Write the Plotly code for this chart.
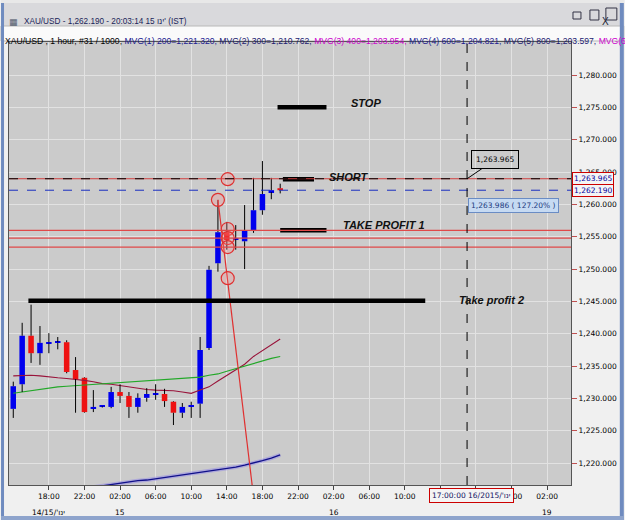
import plotly.graph_objects as go

# ---------------- data ----------------
hours = list(range(14, 45))  # hourly index (hours since 14th 00:00)
opens  = [1228.4, 1232.2, 1239.7, 1237.0, 1238.5, 1238.6, 1238.7, 1234.4, 1233.2, 1228.4,
          1228.7, 1228.7, 1231.0, 1230.4, 1228.7, 1230.1, 1230.6, 1230.7, 1229.5, 1227.8,
          1228.7, 1229.2, 1237.8, 1250.9, 1255.7, 1254.6, 1254.3, 1256.0, 1259.1, 1261.9, 1262.5]
highs  = [1232.6, 1241.7, 1244.5, 1241.2, 1240.1, 1239.5, 1239.0, 1236.4, 1233.3, 1231.3,
          1228.8, 1231.8, 1232.2, 1231.0, 1230.8, 1231.6, 1232.2, 1231.5, 1229.6, 1229.3,
          1229.5, 1239.5, 1250.5, 1260.7, 1257.3, 1256.8, 1259.9, 1264.1, 1266.7, 1264.1, 1263.2]
lows   = [1227.0, 1231.0, 1235.5, 1235.2, 1237.0, 1237.6, 1233.9, 1227.8, 1227.8, 1227.9,
          1228.6, 1228.5, 1229.3, 1227.0, 1227.8, 1229.5, 1229.8, 1228.7, 1225.9, 1227.0,
          1227.0, 1227.0, 1237.5, 1249.6, 1253.0, 1253.0, 1250.0, 1255.6, 1258.4, 1260.8, 1261.7]
closes = [1231.9, 1239.7, 1237.0, 1238.6, 1238.7, 1238.7, 1234.1, 1233.0, 1227.9, 1228.7,
          1228.7, 1231.0, 1230.4, 1228.7, 1230.1, 1230.7, 1230.8, 1229.6, 1227.8, 1228.7,
          1229.0, 1237.5, 1249.9, 1255.7, 1254.5, 1254.8, 1256.0, 1259.1, 1261.6, 1262.2, 1262.19]

ma_maroon = [1233.5, 1233.6, 1233.6, 1233.5, 1233.3, 1233.2, 1233.1, 1233.0, 1232.8, 1232.6,
             1232.3, 1232.2, 1232.0, 1231.7, 1231.5, 1231.4, 1231.3, 1231.3, 1231.2, 1231.0,
             1230.8, 1231.3, 1231.8, 1232.7, 1233.6, 1234.4, 1235.3, 1236.5, 1237.4, 1238.3, 1239.2]
ma_green = [1230.8, 1231.0, 1231.3, 1231.5, 1231.7, 1231.8, 1231.9, 1232.0, 1232.1, 1232.1,
            1232.2, 1232.3, 1232.4, 1232.5, 1232.6, 1232.7, 1232.8, 1232.9, 1233.0, 1233.1,
            1233.2, 1233.3, 1233.6, 1233.8, 1234.2, 1234.6, 1235.0, 1235.5, 1235.9, 1236.2, 1236.5]
ma200_hours = list(range(22, 45))
ma200 = [1216.1, 1216.3, 1216.5, 1216.8, 1217.0, 1217.1, 1217.3, 1217.4, 1217.6, 1217.8,
         1217.9, 1218.1, 1218.3, 1218.5, 1218.7, 1218.9, 1219.2, 1219.4, 1219.7, 1220.0,
         1220.4, 1220.8, 1221.3]

tick_hours = [18, 22, 26, 30, 34, 38, 42, 46, 50, 54, 58, 62, 66, 70, 74]
# labels at 62 and 66 are hidden behind the cursor time box in the reference
tick_labels = ["18:00", "22:00", "02:00", "06:00", "10:00", "14:00", "18:00", "22:00",
               "02:00", "06:00", "10:00", "", "", "22:00", "02:00"]
date_hours = [18, 26, 50, 74]
date_labels = ["14/ינו'/15", "15", "16", "19"]
y_ticks = [1220, 1225, 1230, 1235, 1240, 1245, 1250, 1255, 1260, 1265, 1270, 1275, 1280]

short_level = 1263.965
last_price = 1262.190
fib_levels = [1256.0, 1254.8, 1253.4]
fib_pts_h = [38.1, 37.0, 38.1, 38.1, 38.1, 38.1]
fib_pts_v = [1263.9, 1260.7, 1256.2, 1254.8, 1253.4, 1248.6]
fib_line_h = [37.0, 40.9]
fib_line_v = [1260.7, 1216.0]

seg_names = ["STOP", "SHORT", "TAKE PROFIT 1", "Take profit 2"]
seg_x0 = [43.7, 44.3, 44.0, 15.7]
seg_x1 = [49.2, 47.8, 49.2, 60.3]
seg_level = [1275.0, 1263.9, 1256.0, 1245.1]
seg_label_h = [53.6, 51.7, 55.7, 67.7]
seg_label_v = [1275.7, 1264.2, 1256.8, 1245.2]

cursor_hour = 65
cursor_time = "17:00:00 16/ינו'/2015"
cursor_value = "1,263.986 ( 127.20% )"
cursor_value_v = 1259.8

# ---------------- helpers (pixel -> paper) ----------------
L, R, T, B = 8, 572, 42, 485
def PX(x):
    return (x - L) / (R - L)
def PY(y):
    return 1 - (y - T) / (B - T)

FONT = "DejaVu Sans"
fig = go.Figure()

# MA 200 halo + line
fig.add_trace(go.Scatter(x=ma200_hours, y=ma200, mode="lines",
                         line=dict(color="rgba(150,140,230,0.55)", width=4), hoverinfo="skip"))
fig.add_trace(go.Scatter(x=ma200_hours, y=ma200, mode="lines",
                         line=dict(color="#10108a", width=1.3), hoverinfo="skip"))
fig.add_trace(go.Scatter(x=hours, y=ma_maroon, mode="lines",
                         line=dict(color="#99133a", width=1.1), hoverinfo="skip"))
fig.add_trace(go.Scatter(x=hours, y=ma_green, mode="lines",
                         line=dict(color="#22a828", width=1.1), hoverinfo="skip"))

# candle bodies
bases, heights, colors = [], [], []
for o, c in zip(opens, closes):
    bases.append(min(o, c))
    heights.append(max(abs(c - o), 0.18))
    colors.append("#0000ee" if c >= o else "#ee1111")
fig.add_trace(go.Bar(x=hours, y=heights, base=bases, width=0.62,
                     marker=dict(color=colors, line=dict(width=0)), hoverinfo="skip"))

# wicks (outside the bodies)
wx, wy = [], []
for h, o, hi, lo, c in zip(hours, opens, highs, lows, closes):
    top, bot = max(o, c), min(o, c)
    wx += [h, h, None, h, h, None]
    wy += [hi, top, None, bot, lo, None]
fig.add_trace(go.Scatter(x=wx, y=wy, mode="lines", line=dict(color="#000000", width=1),
                         hoverinfo="skip", connectgaps=False))

# horizontal levels
for lv in fib_levels:
    fig.add_hline(y=lv, line=dict(color="#e04848", width=1.3), layer="above")
fig.add_hline(y=short_level, line=dict(color="#d04040", width=1), layer="above")
fig.add_hline(y=short_level, line=dict(color="#000000", width=1, dash="dash"), layer="above")
fig.add_hline(y=last_price, line=dict(color="#1a2ec0", width=1, dash="dash"), layer="above")
fig.add_vline(x=cursor_hour, line=dict(color="#000000", width=1, dash="dash"), layer="above")

# fibonacci line and points
fig.add_trace(go.Scatter(x=fib_line_h, y=fib_line_v, mode="lines",
                         line=dict(color="#e03030", width=1.2), hoverinfo="skip"))
fig.add_trace(go.Scatter(x=fib_pts_h, y=fib_pts_v, mode="markers",
                         marker=dict(symbol="circle", size=13, color="rgba(255,130,130,0.25)",
                                     line=dict(color="#e03030", width=1.2)), hoverinfo="skip"))

# drawn thick segments
for x0, x1, lv in zip(seg_x0, seg_x1, seg_level):
    fig.add_trace(go.Scatter(x=[x0, x1], y=[lv, lv], mode="lines",
                             line=dict(color="#000000", width=4.5), hoverinfo="skip"))
for name, hx, vy in zip(seg_names, seg_label_h, seg_label_v):
    fig.add_annotation(x=hx, y=vy, xref="x", yref="y", text="<b><i>%s</i></b>" % name,
                       showarrow=False, font=dict(family="Liberation Sans", size=11, color="#111111"))

# callout and cursor labels
fig.add_annotation(x=cursor_hour, y=short_level, xref="x", yref="y", text="1,263.965",
                   showarrow=True, arrowhead=0, arrowwidth=1, arrowcolor="#000000",
                   ax=28, ay=-19, bordercolor="#000000", borderwidth=1, borderpad=4,
                   font=dict(family=FONT, size=7.5, color="#000000"))
fig.add_annotation(x=cursor_hour, y=cursor_value_v, xref="x", yref="y", text=cursor_value,
                   xanchor="left", xshift=1, showarrow=False, bgcolor="#c6daf2",
                   bordercolor="#6a8cc4", borderwidth=1, borderpad=2,
                   font=dict(family=FONT, size=7.5, color="#203a80"))
for val in [short_level, last_price]:
    fig.add_annotation(x=1, y=val, xref="paper", yref="y", text="{:,.3f}".format(val),
                       xanchor="left", xshift=1, showarrow=False, bgcolor="#f4f4f4",
                       bordercolor="#cc0000", borderwidth=1, borderpad=1,
                       font=dict(family=FONT, size=7.5, color="#0000a0"))
fig.add_annotation(x=cursor_hour, y=0, xref="x", yref="paper", text=cursor_time,
                   xanchor="center", yanchor="top", xshift=4, yshift=-3, showarrow=False,
                   bgcolor="#f4f4f4", bordercolor="#cc0000", borderwidth=1, borderpad=2,
                   font=dict(family=FONT, size=7.5, color="#101060"))
for h, lab in zip(date_hours, date_labels):
    fig.add_annotation(x=h, y=0, xref="x", yref="paper", text=lab, yanchor="middle",
                       yshift=-27, showarrow=False,
                       font=dict(family=FONT, size=7.5, color="#000000"))

# window chrome
shapes = [
    dict(type="rect", xref="paper", yref="paper", x0=PX(0), x1=PX(625), y0=PY(26), y1=PY(3),
         fillcolor="#d9d9dc", line=dict(width=0), layer="below"),
    dict(type="rect", xref="paper", yref="paper", x0=PX(0), x1=PX(625), y0=PY(41), y1=PY(26),
         fillcolor="#fafafa", line=dict(color="#b8b8b8", width=1), layer="below"),
    dict(type="rect", xref="paper", yref="paper", x0=PX(0), x1=PX(3), y0=PY(520), y1=PY(3),
         fillcolor="#6f8bbf", line=dict(width=0), layer="below"),
    dict(type="rect", xref="paper", yref="paper", x0=PX(621), x1=PX(625), y0=PY(520), y1=PY(3),
         fillcolor="#6f8bbf", line=dict(width=0), layer="below"),
    dict(type="rect", xref="paper", yref="paper", x0=PX(0), x1=PX(625), y0=PY(520), y1=PY(516),
         fillcolor="#8ea4cc", line=dict(width=0), layer="below"),
    dict(type="rect", xref="paper", yref="paper", x0=PX(0), x1=PX(625), y0=PY(3), y1=PY(0),
         fillcolor="#e8e8e8", line=dict(width=0), layer="below"),
    # title bar buttons
    dict(type="rect", xref="paper", yref="paper", x0=PX(574), x1=PX(582), y0=PY(19), y1=PY(12),
         line=dict(color="#333344", width=1), layer="below"),
    dict(type="rect", xref="paper", yref="paper", x0=PX(591), x1=PX(600), y0=PY(20), y1=PY(10),
         line=dict(color="#333344", width=1), layer="below"),
    dict(type="rect", xref="paper", yref="paper", x0=PX(607), x1=PX(618), y0=PY(20), y1=PY(8),
         line=dict(color="#333344", width=1), layer="below"),
]
fig.update_layout(shapes=list(fig.layout.shapes) + shapes)
fig.add_annotation(x=PX(612.5), y=PY(14), xref="paper", yref="paper", text="X", showarrow=False,
                   font=dict(family="Liberation Sans", size=10, color="#222233"))
fig.add_annotation(x=PX(6), y=PY(15), xref="paper", yref="paper", text="▦", showarrow=False,
                   xanchor="left", font=dict(family=FONT, size=9, color="#556070"))
fig.add_annotation(x=PX(21), y=PY(15), xref="paper", yref="paper",
                   text="XAU/USD - 1,262.190 - 20:03:14 15 ינו' (IST)", showarrow=False,
                   xanchor="left", font=dict(family="Liberation Sans", size=8.2, color="#1a2458"))
header = ("XAU/USD , 1 hour, #31 / 1000, "
          "<span style='color:#1a1a90'>MVG(1) 200=1,221.320, </span>"
          "<span style='color:#1a1a70'>MVG(2) 300=1,210.762, </span>"
          "<span style='color:#cc00cc'>MVG(3) 400=1,203.954, </span>"
          "<span style='color:#1a1a90'>MVG(4) 600=1,204.821, </span>"
          "<span style='color:#1a1a70'>MVG(5) 800=1,203.597, </span>"
          "<span style='color:#cc00cc'>MVG(6</span>")
fig.add_annotation(x=PX(2), y=PY(33.5), xref="paper", yref="paper", text=header,
                   showarrow=False, xanchor="left",
                   font=dict(family="Liberation Sans", size=8.6, color="#000000"))

fig.update_layout(
    width=625, height=520,
    margin=dict(l=L, r=625 - R, t=T, b=520 - B),
    paper_bgcolor="#f0f0f0", plot_bgcolor="#cbcbcb",
    showlegend=False, barmode="overlay",
    xaxis=dict(range=[13.52, 76.68], tickvals=tick_hours, ticktext=tick_labels,
               showgrid=True, gridcolor="#e2e2e2", gridwidth=1, zeroline=False,
               ticks="outside", ticklen=4, tickcolor="#444444",
               tickfont=dict(family=FONT, size=7.5, color="#000000"),
               showline=True, linecolor="#555555", mirror=True, fixedrange=True),
    yaxis=dict(range=[1216.63, 1285.1], side="right", tickvals=y_ticks, tickformat=",.3f",
               showgrid=True, gridcolor="#e2e2e2", gridwidth=1, zeroline=False,
               ticks="outside", ticklen=5, tickcolor="#c05050",
               tickfont=dict(family=FONT, size=7.5, color="#000000"),
               showline=True, linecolor="#555555", mirror=True, fixedrange=True),
)

fig.write_html("out.html")
